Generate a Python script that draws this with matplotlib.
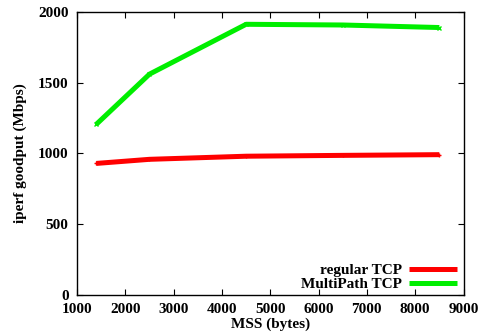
import matplotlib
matplotlib.use("Agg")
import matplotlib.pyplot as plt

# ── Data ───────────────────────────────────────────────────────────────────────
mss = [1400, 2500, 4500, 6500, 8500]
regular_tcp = [928, 957, 979, 985, 990]
multipath_tcp = [1205, 1560, 1913, 1908, 1890]

xticks = [1000, 2000, 3000, 4000, 5000, 6000, 7000, 8000, 9000]
yticks = [0, 500, 1000, 1500, 2000]

plt.rcParams['font.family'] = ['Liberation Serif', 'DejaVu Serif']
plt.rcParams['font.weight'] = 'bold'
plt.rcParams['font.size'] = 11

fig = plt.figure(figsize=(4.82, 3.34), dpi=100)
ax = fig.add_axes([77 / 482, 1 - 294.5 / 334, 386.5 / 482, 282.5 / 334])

ax.plot(mss, regular_tcp, color='#ff0000', lw=3.6, marker='+', ms=3,
        solid_capstyle='butt', label='regular TCP')
ax.plot(mss, multipath_tcp, color='#00ee00', lw=3.6, marker='x', ms=3,
        solid_capstyle='butt', label='MultiPath TCP')

ax.set_xlim(1000, 9000)
ax.set_ylim(0, 2000)
ax.set_xticks(xticks)
ax.set_yticks(yticks)
ax.tick_params(direction='in', top=True, right=True, length=4, width=0.8)
ax.tick_params(axis='x', pad=6)
ax.tick_params(axis='y', pad=6)
for s in ax.spines.values():
    s.set_linewidth(1.0)

ax.set_xlabel('MSS (bytes)', fontweight='bold', labelpad=1)
ax.set_ylabel('iperf goodput (Mbps)', fontweight='bold', labelpad=8)

leg = ax.legend(loc='lower right', bbox_to_anchor=(0.99, 0.0), frameon=False,
                markerfirst=False, handlelength=3.1, borderaxespad=0.1,
                borderpad=0.1, labelspacing=0.05, handletextpad=0.5)
for h in leg.get_lines():
    h.set_marker('')

fig.savefig('out.png', dpi=100)
